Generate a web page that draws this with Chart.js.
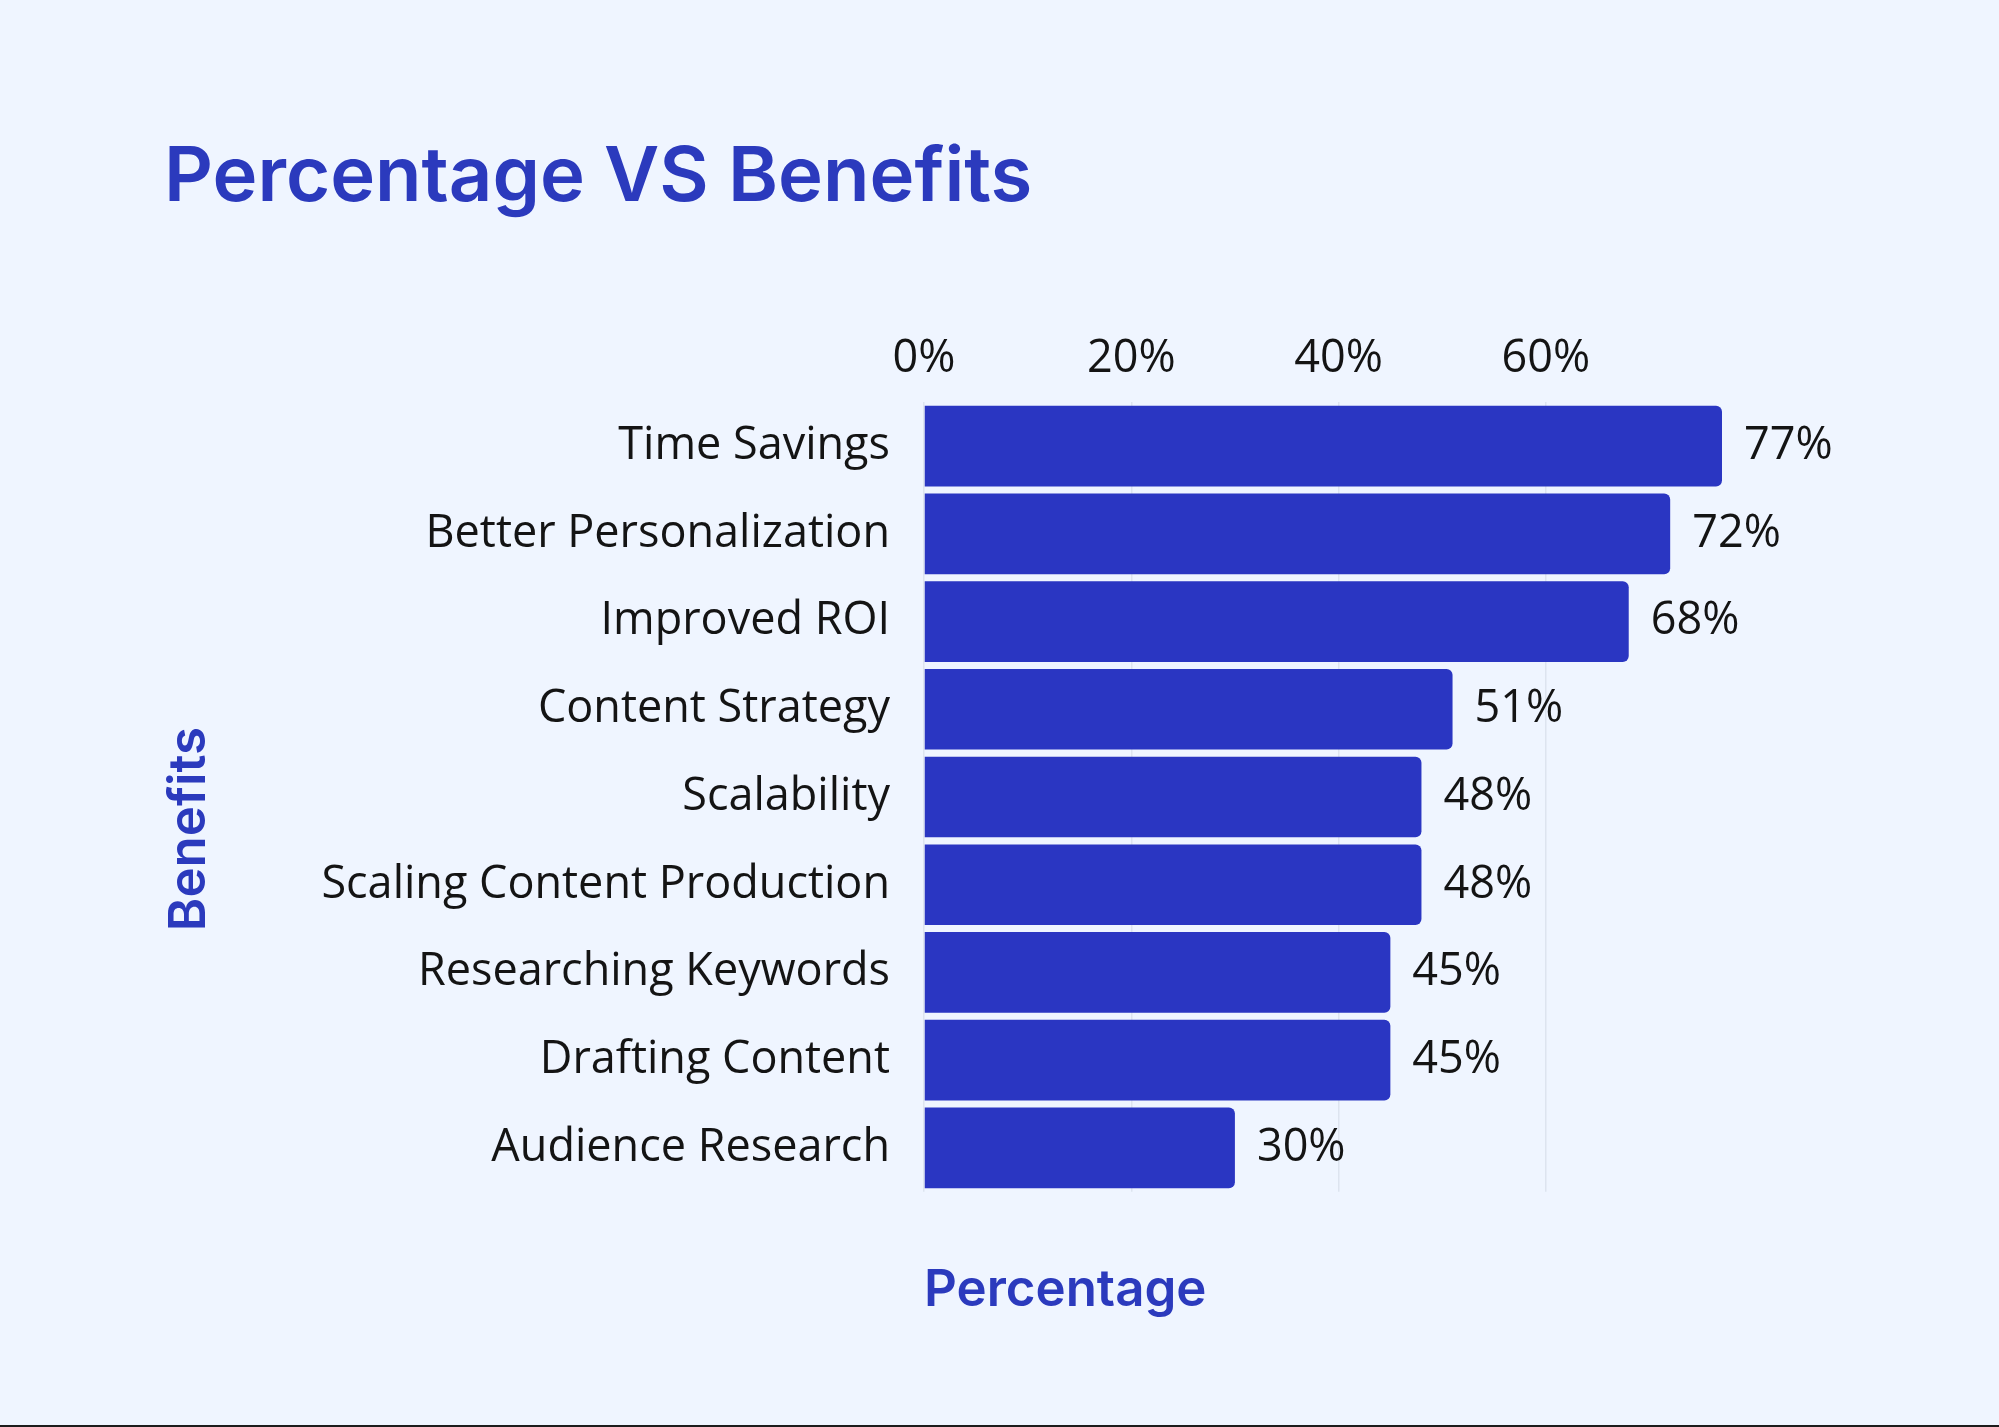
<!DOCTYPE html>
<html>
<head>
<meta charset="utf-8">
<title>Percentage VS Benefits</title>
<script src="https://cdn.jsdelivr.net/npm/chart.js@4.4.1/dist/chart.umd.min.js"></script>
<style>
    html, body {
        margin: 0;
        padding: 0;
        background: #eff5ff;
    }
    #wrap {
        position: relative;
        width: 1999px;
        height: 1427px;
    }
    #bottomLine {
        position: absolute;
        left: 0;
        bottom: 0;
        width: 100%;
        height: 2px;
        background: #1c1c1c;
    }
</style>
</head>
<body>
<div id="wrap">
    <canvas id="benefitsChart"></canvas>
    <div id="bottomLine"></div>
</div>
<script>
// dados
const benefits = [
    'Time Savings',
    'Better Personalization',
    'Improved ROI',
    'Content Strategy',
    'Scalability',
    'Scaling Content Production',
    'Researching Keywords',
    'Drafting Content',
    'Audience Research'
];
const percentages = [77, 72, 68, 51, 48, 48, 45, 45, 30];
const tickStep = 20;
const axisMax = 77;

const titleBlue = '#2b3abd';
const barBlue = '#2a36c2';
const textColor = '#141414';

// rótulos de valor ao lado de cada barra
const valueLabels = {
    id: 'valueLabels',
    afterDatasetsDraw(chart) {
        const ctx = chart.ctx;
        const meta = chart.getDatasetMeta(0);
        ctx.save();
        ctx.font = '45px "Open Sans"';
        ctx.fillStyle = textColor;
        ctx.textAlign = 'left';
        ctx.textBaseline = 'middle';
        meta.data.forEach((bar, i) => {
            ctx.fillText(percentages[i] + '%', bar.x + 22, bar.y);
        });
        ctx.restore();
    }
};

document.addEventListener('DOMContentLoaded', () => {
    const ctx = document.getElementById('benefitsChart').getContext('2d');

    new Chart(ctx, {
        type: 'bar',
        data: {
            labels: benefits,
            datasets: [{
                label: 'Percentage',
                data: percentages,
                backgroundColor: barBlue,
                borderRadius: 6,
                borderSkipped: 'start',
                barPercentage: 0.92,
                categoryPercentage: 1
            }]
        },
        plugins: [valueLabels],
        options: {
            indexAxis: 'y',
            responsive: true,
            maintainAspectRatio: false,
            animation: false,
            layout: {
                padding: { top: 20, left: 164, right: 277, bottom: 86 }
            },
            plugins: {
                legend: { display: false },
                tooltip: { enabled: false },
                title: {
                    display: true,
                    text: 'Percentage VS Benefits',
                    align: 'start',
                    color: titleBlue,
                    font: { family: 'Inter', size: 76, weight: '600', lineHeight: 1.2 },
                    padding: { top: 113, bottom: 92 }
                }
            },
            scales: {
                x: {
                    position: 'top',
                    min: 0,
                    max: axisMax,
                    border: { display: false },
                    grid: {
                        color: '#dde4ef',
                        lineWidth: 1.5,
                        drawTicks: false
                    },
                    ticks: {
                        stepSize: tickStep,
                        includeBounds: false,
                        padding: 16,
                        color: textColor,
                        font: { family: 'Open Sans', size: 45, lineHeight: 1.2 },
                        callback: (v) => v + '%'
                    }
                },
                x2: {
                    type: 'linear',
                    position: 'bottom',
                    border: { display: false },
                    grid: { display: false, drawTicks: false },
                    ticks: { display: false },
                    title: {
                        display: true,
                        text: 'Percentage',
                        align: 'start',
                        color: titleBlue,
                        font: { family: 'Inter', size: 51, weight: '600', lineHeight: 1.2 },
                        padding: { top: 68, bottom: 20 }
                    }
                },
                y: {
                    border: { display: false },
                    grid: { display: false, drawTicks: false },
                    ticks: {
                        padding: 34,
                        color: textColor,
                        font: { family: 'Open Sans', size: 45, lineHeight: 1.2 }
                    },
                    title: {
                        display: true,
                        // espaços no fim empurram o texto um pouco para baixo
                        text: 'Benefits     ',
                        color: titleBlue,
                        font: { family: 'Inter', size: 51, weight: '600', lineHeight: 1 },
                        padding: 0
                    },
                    afterFit: (scale) => {
                        scale.width = 760;
                    }
                }
            }
        }
    });
});
</script>
</body>
</html>
